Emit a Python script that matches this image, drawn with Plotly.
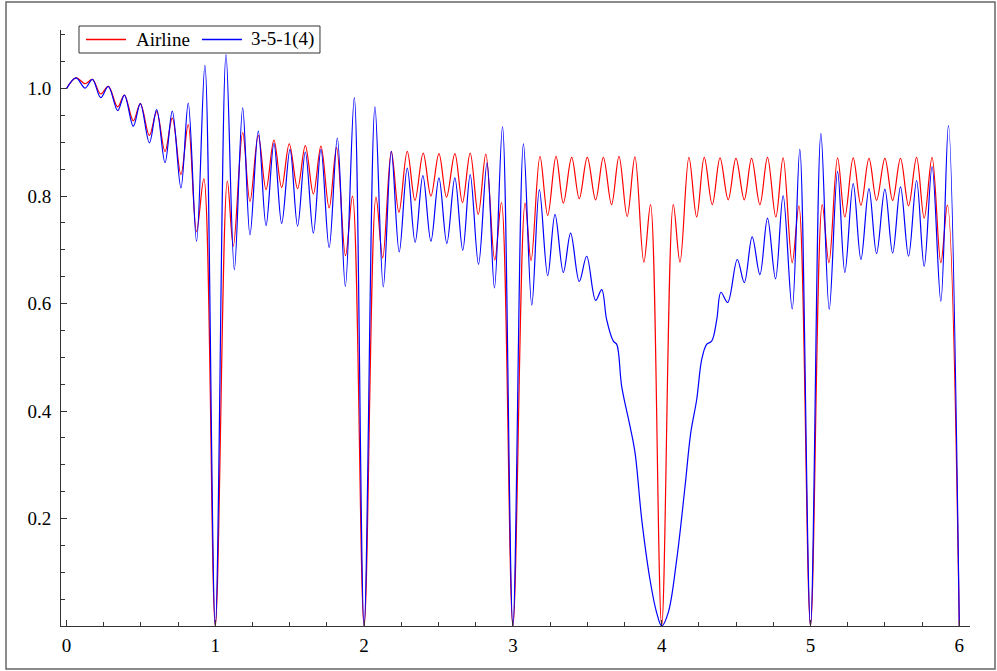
import plotly.graph_objects as go

# ---- data (extrema and zeros of each curve) ----
airline_x = [
    0.000, 0.064, 0.125, 0.174, 0.230, 0.281, 0.344, 0.389, 0.449, 0.496,
    0.557, 0.606, 0.662, 0.711, 0.769, 0.818, 0.874, 0.923, 1.000,
    1.081, 1.121, 1.184, 1.233, 1.289, 1.341, 1.394, 1.446, 1.497, 1.553,
    1.605, 1.659, 1.710, 1.765, 1.815, 1.875, 1.922, 2.000,
    2.080, 2.125, 2.183, 2.234, 2.290, 2.342, 2.397, 2.449, 2.503, 2.554,
    2.610, 2.661, 2.713, 2.767, 2.818, 2.878, 2.923, 3.000,
    3.082, 3.122, 3.182, 3.234, 3.290, 3.339, 3.395, 3.446, 3.500, 3.556,
    3.608, 3.663, 3.713, 3.768, 3.820, 3.880, 3.925, 4.000,
    4.078, 4.123, 4.183, 4.235, 4.286, 4.340, 4.392, 4.447, 4.499, 4.555,
    4.604, 4.660, 4.711, 4.767, 4.816, 4.877, 4.922, 5.000,
    5.079, 5.124, 5.182, 5.231, 5.287, 5.339, 5.393, 5.444, 5.500, 5.552,
    5.605, 5.659, 5.713, 5.764, 5.817, 5.876, 5.920, 6.000,
]
airline_y = [
    1.000, 1.020, 1.009, 1.017, 0.990, 1.004, 0.966, 0.988, 0.940, 0.972,
    0.913, 0.957, 0.883, 0.945, 0.840, 0.933, 0.734, 0.832, 0.000,
    0.828, 0.707, 0.918, 0.790, 0.913, 0.812, 0.904, 0.816, 0.897, 0.814,
    0.894, 0.804, 0.893, 0.778, 0.890, 0.689, 0.800, 0.000,
    0.798, 0.685, 0.883, 0.770, 0.883, 0.792, 0.880, 0.800, 0.879, 0.798,
    0.879, 0.788, 0.880, 0.766, 0.878, 0.681, 0.788, 0.000,
    0.787, 0.680, 0.874, 0.764, 0.874, 0.787, 0.872, 0.795, 0.872, 0.793,
    0.872, 0.784, 0.874, 0.762, 0.873, 0.677, 0.784, 0.000,
    0.784, 0.677, 0.872, 0.761, 0.872, 0.784, 0.871, 0.793, 0.870, 0.793,
    0.870, 0.784, 0.872, 0.761, 0.871, 0.676, 0.782, 0.000,
    0.784, 0.676, 0.871, 0.761, 0.871, 0.783, 0.870, 0.792, 0.870, 0.792,
    0.870, 0.782, 0.872, 0.759, 0.872, 0.676, 0.783, 0.000,
]

model_x = [
    0.000, 0.064, 0.125, 0.174, 0.230, 0.281, 0.344, 0.389, 0.449, 0.496,
    0.557, 0.606, 0.662, 0.711, 0.769, 0.818, 0.874, 0.930, 1.000,
    1.072, 1.128, 1.184, 1.233, 1.289, 1.341, 1.394, 1.446, 1.502, 1.553,
    1.605, 1.659, 1.710, 1.765, 1.820, 1.874, 1.934, 2.000,
    2.073, 2.129, 2.183, 2.236, 2.290, 2.343, 2.395, 2.449, 2.503, 2.556,
    2.610, 2.663, 2.713, 2.769, 2.826, 2.876, 2.930, 3.000,
    3.071, 3.127, 3.178, 3.234, 3.283, 3.339, 3.388, 3.446, 3.496, 3.556,
    3.597, 3.630, 3.675, 3.698, 3.731, 3.787, 3.821, 3.866, 3.921, 3.966,
    4.000,
    4.044, 4.101, 4.157, 4.195, 4.235, 4.269, 4.302, 4.336, 4.370, 4.398,
    4.443, 4.508, 4.555, 4.608, 4.660, 4.711, 4.765, 4.816, 4.877, 4.928,
    5.000,
    5.070, 5.126, 5.182, 5.231, 5.287, 5.339, 5.393, 5.444, 5.500, 5.552,
    5.605, 5.659, 5.713, 5.764, 5.817, 5.876, 5.927, 6.000,
]
model_y = [
    1.000, 1.020, 1.001, 1.017, 0.983, 1.004, 0.959, 0.988, 0.930, 0.972,
    0.899, 0.961, 0.862, 0.958, 0.815, 0.973, 0.716, 1.043, 0.000,
    1.063, 0.663, 0.964, 0.728, 0.921, 0.745, 0.898, 0.749, 0.887, 0.744,
    0.882, 0.731, 0.887, 0.704, 0.908, 0.632, 0.983, 0.000,
    0.966, 0.631, 0.883, 0.696, 0.852, 0.714, 0.838, 0.716, 0.834, 0.712,
    0.834, 0.699, 0.840, 0.673, 0.862, 0.629, 0.929, 0.000,
    0.897, 0.597, 0.812, 0.652, 0.766, 0.658, 0.731, 0.641, 0.688, 0.606,
    0.626, 0.570, 0.530, 0.524, 0.446, 0.372, 0.322, 0.198, 0.087, 0.025,
    0.000,
    0.025, 0.124, 0.260, 0.359, 0.421, 0.496, 0.524, 0.530, 0.570, 0.621,
    0.602, 0.682, 0.639, 0.724, 0.654, 0.759, 0.646, 0.801, 0.590, 0.887,
    0.000,
    0.916, 0.589, 0.846, 0.658, 0.823, 0.682, 0.814, 0.693, 0.813, 0.694,
    0.817, 0.688, 0.829, 0.669, 0.855, 0.604, 0.931, 0.000,
]

series_names = ["Airline", "3-5-1(4)"]
series_colors = ["#ff0000", "#0000ff"]
x_tick_vals = [0, 1, 2, 3, 4, 5, 6]
x_tick_text = ["0", "1", "2", "3", "4", "5", "6"]
y_tick_vals = [0.2, 0.4, 0.6, 0.8, 1.0]
y_tick_text = ["0.2", "0.4", "0.6", "0.8", "1.0"]

FONT = "Liberation Serif, Times New Roman, serif"
AX = "#333333"

fig = go.Figure()
fig.add_trace(go.Scatter(
    x=airline_x, y=airline_y, mode="lines", name=series_names[0],
    line=dict(color=series_colors[0], width=1.2, shape="spline", smoothing=1),
))
fig.add_trace(go.Scatter(
    x=model_x, y=model_y, mode="lines", name=series_names[1],
    line=dict(color=series_colors[1], width=1.2, shape="spline", smoothing=1),
))

# boxed key in paper coordinates (matches the reference legend box)
key_y = 0.9841
key_h = 0.0011
legend_shapes = [
    dict(type="rect", xref="paper", yref="paper",
         x0=0.0198, x1=0.2849, y0=0.9614, y1=1.0067,
         line=dict(color="#333333", width=1), fillcolor="white", layer="above"),
    dict(type="rect", xref="paper", yref="paper",
         x0=0.0275, x1=0.0715, y0=key_y - key_h, y1=key_y + key_h,
         line=dict(width=0), fillcolor=series_colors[0], layer="above"),
    dict(type="rect", xref="paper", yref="paper",
         x0=0.1551, x1=0.1991, y0=key_y - key_h, y1=key_y + key_h,
         line=dict(width=0), fillcolor=series_colors[1], layer="above"),
]
legend_annotations = [
    dict(text=series_names[0], xref="paper", yref="paper", x=0.0803, y=key_y,
         xanchor="left", yanchor="middle", showarrow=False,
         font=dict(family=FONT, size=19, color="black")),
    dict(text=series_names[1], xref="paper", yref="paper", x=0.2068, y=key_y,
         xanchor="left", yanchor="middle", showarrow=False,
         font=dict(family=FONT, size=19, color="black")),
]

frame = dict(
    type="rect", xref="paper", yref="paper",
    x0=-0.0605, x1=1.0275, y0=-0.0721, y1=1.047,
    line=dict(color="#666666", width=1.5),
    fillcolor="rgba(0,0,0,0)", layer="above",
)

fig.update_layout(
    width=997, height=671,
    margin=dict(l=61, r=27, t=30, b=45, autoexpand=False),
    paper_bgcolor="white", plot_bgcolor="white",
    font=dict(family=FONT, size=19, color="black"),
    showlegend=False,
    xaxis=dict(
        range=[-0.037, 6.072], showgrid=False, zeroline=False,
        showline=True, linecolor=AX, linewidth=1,
        tickmode="array", tickvals=x_tick_vals, ticktext=x_tick_text,
        ticks="inside", ticklen=6, tickcolor=AX, tickwidth=1,
        minor=dict(tick0=0, dtick=0.25, ticks="inside", ticklen=4,
                   tickcolor=AX, tickwidth=1, showgrid=False),
        tickfont=dict(family=FONT, size=19, color="black"),
        ticklabelstandoff=2,
    ),
    yaxis=dict(
        range=[0, 1.109], showgrid=False, zeroline=False,
        showline=True, linecolor=AX, linewidth=1,
        tickmode="array", tickvals=y_tick_vals, ticktext=y_tick_text,
        ticks="inside", ticklen=6, tickcolor=AX, tickwidth=1,
        minor=dict(tick0=0, dtick=0.05, ticks="inside", ticklen=4,
                   tickcolor=AX, tickwidth=1, showgrid=False),
        tickfont=dict(family=FONT, size=19, color="black"),
        ticklabelstandoff=5,
    ),
    shapes=legend_shapes + [frame],
    annotations=legend_annotations,
)

fig.write_html(
    "out.html",
    config={"displayModeBar": False},
    post_script="document.body.style.margin='0px';document.body.style.overflow='hidden';",
)
